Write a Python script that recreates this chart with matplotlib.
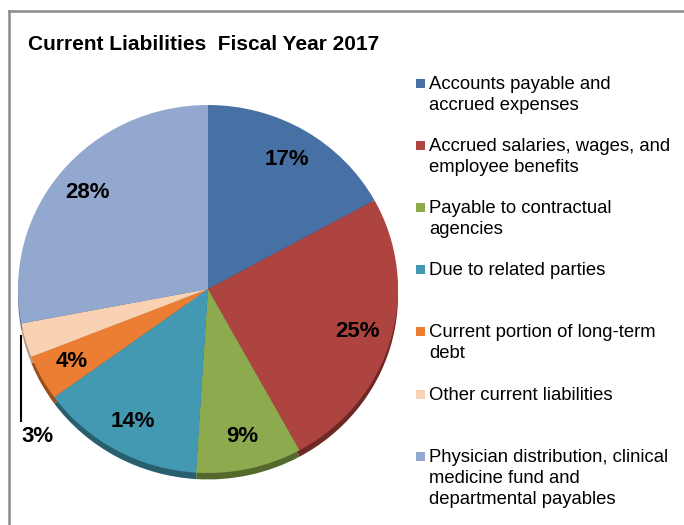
import matplotlib
matplotlib.use("Agg")
import matplotlib.pyplot as plt
from matplotlib.patches import Rectangle
from matplotlib.lines import Line2D

# Current liabilities breakdown, FY2017 (percent of total)
categories = [
    "Accounts payable and\naccrued expenses",
    "Accrued salaries, wages, and\nemployee benefits",
    "Payable to contractual\nagencies",
    "Due to related parties",
    "Current portion of long-term\ndebt",
    "Other current liabilities",
    "Physician distribution, clinical\nmedicine fund and\ndepartmental payables",
]
values = [17, 25, 9, 14, 4, 3, 28]

colors = ["#4770A4", "#AE4440", "#8EAA4E", "#4399B2", "#EB7E33", "#F8D2B3", "#93A8CF"]
edge_colors = ["#2C4A70", "#6E2826", "#55692C", "#285E6E", "#9A4E1C", "#B89A82", "#5E6E8C"]

W, H = 684, 525
fig = plt.figure(figsize=(W / 100, H / 100), dpi=100)

# pie geometry in pixels
cx, cy, rx, ry = 208, 289, 190, 184
ax = fig.add_axes([(cx - rx) / W, (H - cy - ry) / H, 2 * rx / W, 2 * ry / H])

# darker copy underneath gives the bevelled bottom edge
ax.pie(values, colors=edge_colors, startangle=90, counterclock=False,
       center=(0, -0.035), wedgeprops=dict(linewidth=0))

wedges, texts, autotexts = ax.pie(
    values, colors=colors, startangle=90, counterclock=False,
    autopct=lambda p: f"{p:.0f}%", pctdistance=0.82,
    wedgeprops=dict(linewidth=0),
    textprops=dict(fontsize=16, fontweight="bold", family="Liberation Sans", color="black"),
)

# the small slice gets its label outside with a leader line
autotexts[5].set_position(((38 - cx) / rx, (cy - 437) / ry))
autotexts[5].set_clip_on(False)
ax.add_line(Line2D([(21 - cx) / rx] * 2, [(cy - 336) / ry, (cy - 421) / ry],
                   color="black", linewidth=1.5, clip_on=False))

ax.set_aspect("auto")
ax.set_xlim(-1, 1)
ax.set_ylim(-1, 1)
ax.axis("off")

# title
fig.text(28 / W, 1 - 50 / H, "Current Liabilities  Fiscal Year 2017",
         family="Liberation Sans", fontweight="bold",
         fontsize=15, va="baseline", ha="left")

# legend, one slot per category; lines placed one by one so the
# first line of each entry sits level with its swatch
for i, (lab, col) in enumerate(zip(categories, colors)):
    yb = 89 + i * 62.1
    fig.add_artist(Rectangle((416 / W, 1 - (yb - 1) / H), 9 / W, 9 / H,
                             transform=fig.transFigure, facecolor=col, edgecolor="none"))
    for k, line in enumerate(lab.split("\n")):
        fig.text(429 / W, 1 - (yb + k * 21) / H, line, family="Liberation Sans",
                 fontsize=13.3, va="baseline", ha="left", color="black")

# chart frame
fig.add_artist(Line2D([8.5 / W, 1], [1 - 11 / H] * 2, transform=fig.transFigure,
                      color="#8a8a8a", linewidth=1.8))
fig.add_artist(Line2D([8.5 / W] * 2, [0, 1 - 11 / H], transform=fig.transFigure,
                      color="#8a8a8a", linewidth=1.8))

fig.savefig("out.png", dpi=100)
